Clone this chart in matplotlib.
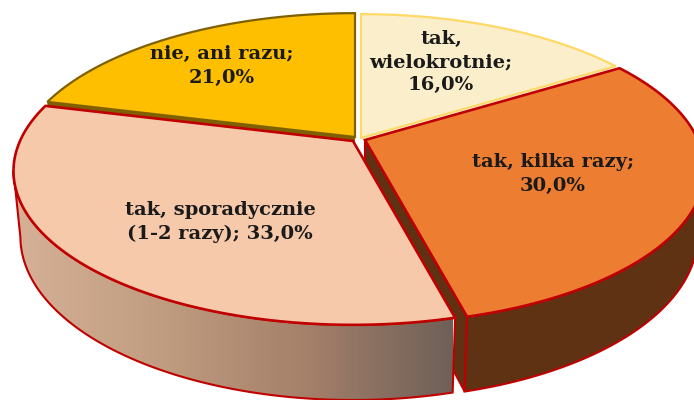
import numpy as np
import matplotlib
matplotlib.use("Agg")
import matplotlib.pyplot as plt
from matplotlib.colors import LinearSegmentedColormap
from matplotlib.patches import Polygon

labels = ["tak,\nwielokrotnie;\n16,0%", "tak, kilka razy;\n30,0%",
          "tak, sporadycznie\n(1-2 razy); 33,0%", "nie, ani razu;\n21,0%"]
values = [16.0, 30.0, 33.0, 21.0]
face_colors = ["#FBEFCB", "#ED7D31", "#F6C9AB", "#FDBF00"]
edge_colors = ["#FFD966", "#C00000", "#C00000", "#7F6000"]
tips = [(361, 138), (365, 140), (353, 141), (355, 137)]
label_pos = [(441, 62), (553, 174), (220, 222), (222, 66)]

# perspective of the disc
A, B, P = 333.0, 148.0, 0.195
Q, D = 0.02, 65.7


def rim(theta, tip, lower=False):
    t = np.radians(theta)
    u, v = np.sin(t), np.cos(t)
    if lower:
        w = 1 + P * v + Q
        return np.column_stack([tip[0] + A * u / w, tip[1] - (B * v - D) / w])
    w = 1 + P * v
    return np.column_stack([tip[0] + A * u / w, tip[1] - B * v / w])


def lower_tip(tip):
    return [tip[0], tip[1] + D / (1 + Q)]


def side_wall(a0, a1, tip):
    top = rim(np.linspace(a0, a1, 120), tip)
    bottom = rim(np.linspace(a1, a0, 120), tip, lower=True)
    return np.vstack([top, bottom])


fig = plt.figure(figsize=(6.94, 4), dpi=100)
ax = fig.add_axes([0, 0, 1, 1])

cum = np.cumsum([0] + values) * 3.6
silhouette = np.degrees(np.arccos(-P))

# thin walls under the two back slices
for i, depth, col in [(0, 5, "#8A8A70"), (3, 6, "#7F6000")]:
    p = rim(np.array([cum[i]]), tips[i])[0]
    wall = [tips[i], p, p + [0, depth], [tips[i][0], tips[i][1] + depth]]
    ax.add_patch(Polygon(wall, closed=True, fc=col, ec="none"))

for i in [0, 3]:
    th = np.linspace(cum[i], cum[i + 1], 120)
    ax.add_patch(Polygon(np.vstack([[tips[i]], rim(th, tips[i])]), closed=True,
                         fc=face_colors[i], ec=edge_colors[i], lw=1.6, joinstyle="miter"))

# orange slice: radial wall and outer wall
tip = tips[1]
end = rim(np.array([cum[2]]), tip)[0]
end_low = rim(np.array([cum[2]]), tip, lower=True)[0]
ax.add_patch(Polygon([tip, end, end_low, lower_tip(tip)], closed=True,
                     fc="#5F3214", ec="#C00000", lw=1.5))
ax.add_patch(Polygon(side_wall(cum[2], silhouette, tip), closed=True,
                     fc="#5F3214", ec="#C00000", lw=1.5))

# peach slice: outer wall with gradient
tip = tips[2]
wall_pts = side_wall(cum[2], 360 - silhouette, tip)
white = Polygon(wall_pts, closed=True, fc="white", ec="none")
ax.add_patch(white)
wall = Polygon(wall_pts, closed=True, fc="none", ec="#C00000", lw=1.5)
cmap = LinearSegmentedColormap.from_list("wall", ["#D6B197", "#C09C80", "#A5806A", "#6E6058"])
img = ax.imshow(np.linspace(0, 1, 256)[None, :], extent=(14, 453, 400, 140), cmap=cmap,
                aspect="auto", zorder=1)
ax.add_patch(wall)
img.set_clip_path(wall)

# top faces of the front slices
for i in [1, 2]:
    th = np.linspace(cum[i], cum[i + 1], 160)
    ax.add_patch(Polygon(np.vstack([[tips[i]], rim(th, tips[i])]), closed=True,
                         fc=face_colors[i], ec=edge_colors[i], lw=1.9, joinstyle="miter"))

for text, (x, y) in zip(labels, label_pos):
    ax.text(x, y, text, ha="center", va="center", fontsize=14, fontweight="bold",
            family="DejaVu Serif", color="#1A1A1A", linespacing=1.37, zorder=5)

ax.set_xlim(0, 694)
ax.set_ylim(400, 0)
ax.axis("off")
fig.savefig("out.png", dpi=100)
